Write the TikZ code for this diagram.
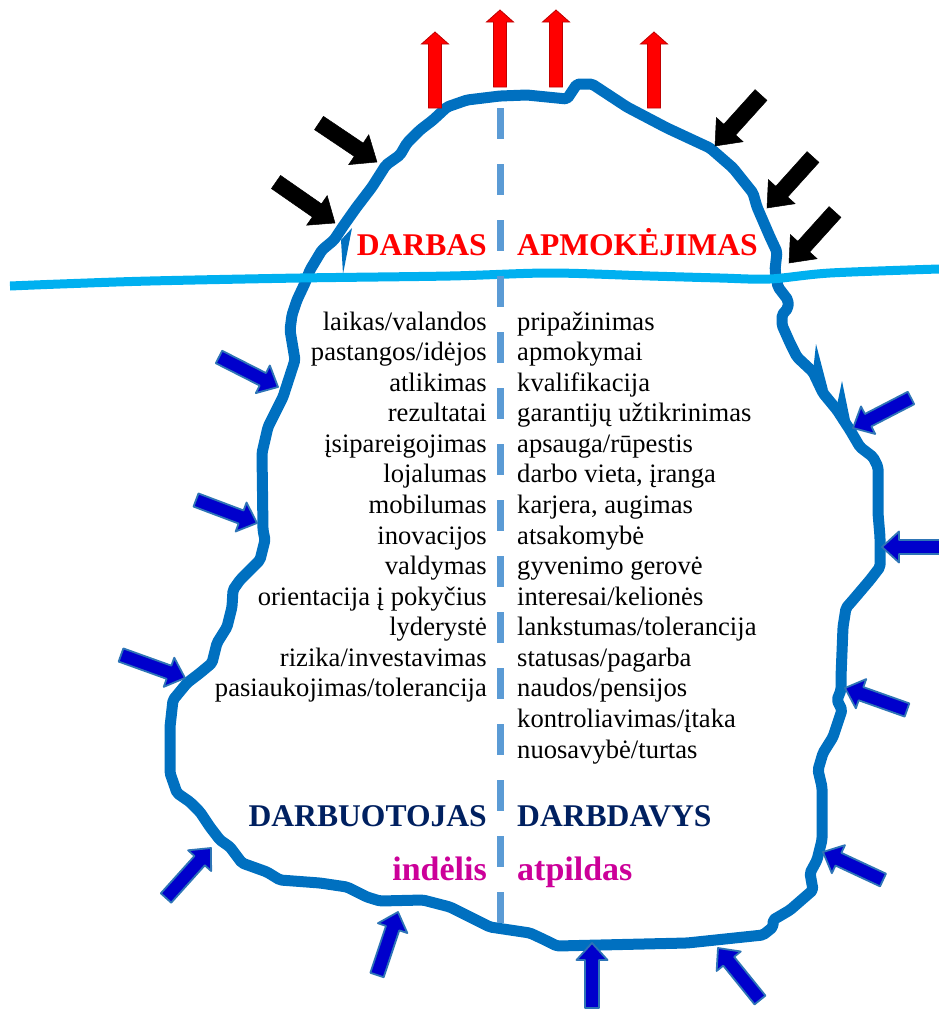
\documentclass[tikz,border=0pt]{standalone}
\usepackage{fontspec}
\setmainfont{Liberation Serif}
\usetikzlibrary{calc}
\definecolor{blobc}{HTML}{0070C0}
\definecolor{waterc}{HTML}{00B0F0}
\definecolor{dashc}{HTML}{5B9BD5}
\definecolor{redline}{HTML}{C00000}
\definecolor{bluefill}{HTML}{0000CC}
\definecolor{blueline}{HTML}{2E75B6}
\definecolor{navyc}{HTML}{002060}
\definecolor{magc}{HTML}{CC0099}
\newcommand\myarrow[8]{%
  \pgfmathsetmacro\madx{#4-#2}%
  \pgfmathsetmacro\mady{#3-#5}%
  \pgfmathsetmacro\maang{atan2(\mady,\madx)}%
  \pgfmathsetmacro\malen{veclen(\madx,\mady)}%
  \pgfmathsetmacro\maneck{\malen-#8}%
  \pgfmathsetmacro\masw{#6/2}%
  \pgfmathsetmacro\mahw{#7/2}%
  \begin{scope}[shift={(#2,#3)},rotate=\maang]
    \draw[#1] (0pt,\masw pt) -- (\maneck pt,\masw pt) -- (\maneck pt,\mahw pt) -- (\malen pt,0pt) -- (\maneck pt,-\mahw pt) -- (\maneck pt,-\masw pt) -- (0pt,-\masw pt) -- cycle;
  \end{scope}}
\tikzset{
  blob/.style={draw=blobc, line width=11pt, line join=round, line cap=round, rounded corners=2pt},
  water/.style={draw=waterc, line width=9pt},
  midline/.style={draw=dashc, line width=7pt, dash pattern=on 31pt off 25pt},
  redarr/.style={fill=red, draw=redline, line width=0.8pt},
  blackarr/.style={fill=black, draw=black, line width=0.5pt},
  bluearr/.style={fill=bluefill, draw=blueline, line width=1.8pt, line join=round},
  lt/.style={anchor=base east, inner sep=0pt, font=\fontsize{26.6}{30}\selectfont},
  rt/.style={anchor=base west, inner sep=0pt, font=\fontsize{26.6}{30}\selectfont},
  lh/.style={anchor=base east, inner sep=0pt, font=\fontsize{31.6}{36}\selectfont\bfseries},
  rh/.style={anchor=base west, inner sep=0pt, font=\fontsize{31.6}{36}\selectfont\bfseries},
  lm/.style={anchor=base east, inner sep=0pt, font=\fontsize{34}{38}\selectfont\bfseries, text=magc},
  rm/.style={anchor=base west, inner sep=0pt, font=\fontsize{34}{38}\selectfont\bfseries, text=magc},
}
\begin{document}
\begin{tikzpicture}[x=1pt,y=-1pt]
\useasboundingbox (0,0) rectangle (939,1010);
% blob outline
\draw[blob] (305,283) -- (310,270) -- (322,250) -- (334,240) -- (344,225) -- (356,208) -- (372,187) -- (386,165) -- (400,155) -- (407,143) -- (420,130) -- (433,120) -- (447,107) -- (467,100) -- (500,96) -- (527,95) -- (567,99) -- (577,84) -- (592,84) -- (627,107) -- (667,128) -- (710,148) -- (733,168) -- (753,193) -- (757,207) -- (770,237) -- (777,252) -- (775,270) -- (778,287) -- (788,300) -- (788,308) -- (782,315) -- (782,325) -- (790,343) -- (797,357) -- (813,372) -- (823,393) -- (837,410) -- (850,430) -- (860,447) -- (873,457) -- (878,467) -- (878,513) -- (880,537) -- (880,567) -- (870,580) -- (853,600) -- (846,608) -- (843,627) -- (841,677) -- (841,690) -- (837,700) -- (842,710) -- (833,737) -- (823,753) -- (818,770) -- (822,787) -- (822,840) -- (817,860) -- (810,873) -- (813,890) -- (790,910) -- (773,920) -- (773,927) -- (763,935) -- (687,943) -- (557,946) -- (545,940) -- (530,933) -- (490,927) -- (480,922) -- (450,907) -- (423,900) -- (380,901) -- (367,897) -- (347,887) -- (320,883) -- (280,880) -- (267,872) -- (242,863) -- (230,847) -- (220,840) -- (210,827) -- (200,812) -- (190,802) -- (177,793) -- (170,773) -- (170,727) -- (173,700) -- (187,683) -- (200,673) -- (212,663) -- (217,643) -- (227,627) -- (232,607) -- (233,590) -- (240,580) -- (260,560) -- (265,540) -- (263,530) -- (262,453) -- (268,427) -- (283,397) -- (295,360) -- (290,330) -- (292,315) -- (297,300) -- cycle;
% thin spikes
\fill[blobc] (343,274) -- (341,240) -- (352,228) -- cycle;
\fill[blobc] (816,344) -- (813,372) -- (828,390) -- cycle;
\fill[blobc] (842,381) -- (836,410) -- (851,425) -- cycle;
% water line
\draw[water] plot[smooth] coordinates {(10,286) (60,284) (150,281) (300,278) (450,276) (550,273) (650,276) (720,278) (770,279) (830,273) (939,269)};
% middle dashed line
\draw[midline] (500,108) -- (500,925);
% red arrows
\myarrow{redarr}{435}{108}{435}{32}{13}{27}{12}
\myarrow{redarr}{500}{87}{500}{10}{13}{27}{12}
\myarrow{redarr}{556}{87}{556}{10}{13}{27}{12}
\myarrow{redarr}{654}{108}{654}{32}{13}{27}{12}
% black arrows
\myarrow{blackarr}{319}{123}{377}{162}{16}{36}{22}
\myarrow{blackarr}{276}{182}{335}{223}{16}{36}{22}
\myarrow{blackarr}{761}{95}{715}{146}{16}{36}{22}
\myarrow{blackarr}{813}{157}{767}{208}{16}{36}{22}
\myarrow{blackarr}{835}{212}{789}{263}{16}{36}{22}
% blue arrows
\myarrow{bluearr}{219}{357}{278}{387}{14}{31}{17}
\myarrow{bluearr}{196}{500}{257}{523}{14}{31}{17}
\myarrow{bluearr}{121}{655}{185}{678}{14}{31}{17}
\myarrow{bluearr}{166}{898}{211}{848}{14}{31}{17}
\myarrow{bluearr}{377}{975}{398}{912}{14}{31}{17}
\myarrow{bluearr}{592}{1008}{592}{943}{14}{31}{17}
\myarrow{bluearr}{760}{1000}{718}{948}{14}{31}{17}
\myarrow{bluearr}{907}{710}{845}{688}{14}{31}{17}
\myarrow{bluearr}{883}{880}{823}{852}{14}{31}{17}
\myarrow{bluearr}{911}{398}{853}{428}{14}{31}{17}
\myarrow{bluearr}{942}{547}{882}{547}{14}{31}{17}
% headings
\node[lh, text=red] (darbas) at (487,255) {DARBAS};
\node[rh, text=red] (apmok) at (517,255) {APMOKĖJIMAS};
\node[lh, text=navyc] (darbuot) at (487,826) {DARBUOTOJAS};
\node[rh, text=navyc] (darbdav) at (517,826) {DARBDAVYS};
\node[lm] (indelis) at (487,880) {indėlis};
\node[rm] (atpildas) at (517,880) {atpildas};
% left column
\node[lt] (l1) at (487,330) {laikas/valandos};
\node[lt] (l2) at (487,360.6) {pastangos/idėjos};
\node[lt] (l3) at (487,391.1) {atlikimas};
\node[lt] (l4) at (487,421.7) {rezultatai};
\node[lt] (l5) at (487,452.3) {įsipareigojimas};
\node[lt] (l6) at (487,482.9) {lojalumas};
\node[lt] (l7) at (487,513.4) {mobilumas};
\node[lt] (l8) at (487,544.0) {inovacijos};
\node[lt] (l9) at (487,574.6) {valdymas};
\node[lt] (l10) at (487,605.1) {orientacija į pokyčius};
\node[lt] (l11) at (487,635.7) {lyderystė};
\node[lt] (l12) at (487,666.3) {rizika/investavimas};
\node[lt] (l13) at (487,696.8) {pasiaukojimas/tolerancija};
% right column
\node[rt] (r1) at (517,330) {pripažinimas};
\node[rt] (r2) at (517,360.6) {apmokymai};
\node[rt] (r3) at (517,391.1) {kvalifikacija};
\node[rt] (r4) at (517,421.7) {garantijų užtikrinimas};
\node[rt] (r5) at (517,452.3) {apsauga/rūpestis};
\node[rt] (r6) at (517,482.9) {darbo vieta, įranga};
\node[rt] (r7) at (517,513.4) {karjera, augimas};
\node[rt] (r8) at (517,544.0) {atsakomybė};
\node[rt] (r9) at (517,574.6) {gyvenimo gerovė};
\node[rt] (r10) at (517,605.1) {interesai/kelionės};
\node[rt] (r11) at (517,635.7) {lankstumas/tolerancija};
\node[rt] (r12) at (517,666.3) {statusas/pagarba};
\node[rt] (r13) at (517,696.8) {naudos/pensijos};
\node[rt] (r14) at (517,727.4) {kontroliavimas/įtaka};
\node[rt] (r15) at (517,758.0) {nuosavybė/turtas};
\end{tikzpicture}
\end{document}
